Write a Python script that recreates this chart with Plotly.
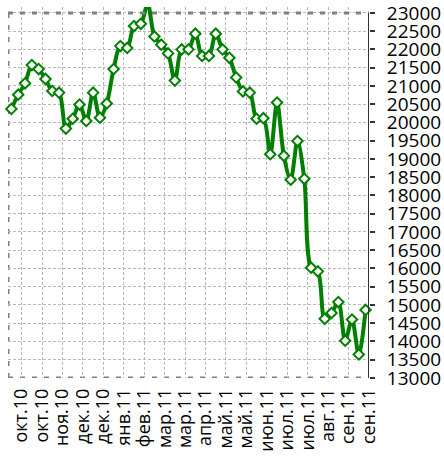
import plotly.graph_objects as go

# weekly observations (index 0..52)
values = [20370, 20760, 21070, 21570, 21460, 21190, 20860, 20815, 19830, 20100,
          20490, 20040, 20815, 20130, 20520, 21460, 22090, 22040, 22640, 22700,
          23250, 22355, 22130, 21890, 21145, 22000, 22000, 22430, 21820, 21820,
          22430, 22000, 21770, 21230, 20850, 20815, 20100, 20115, 19130, 20545,
          19085, 18430, 19490, 18455, 16020, 15920, 14620, 14780, 15080, 14020,
          14600, 13645, 14865]
weeks = list(range(len(values)))

tick_labels = ["окт.10", "окт.10", "ноя.10", "дек.10", "дек.10", "янв.11",
               "фев.11", "мар.11", "мар.11", "апр.11", "май.11", "май.11",
               "июн.11", "июл.11", "июл.11", "авг.11", "сен.11", "сен.11"]
tick_pos = [1.5 + 3 * i for i in range(len(tick_labels))]

y_ticks = list(range(13000, 23001, 500))
y_tick_text = [str(v) for v in y_ticks]

FONT = "Open Sans"
XMIN, XMAX = -0.5, 52.5
YMIN, YMAX = 13000, 23161

fig = go.Figure()
fig.add_trace(go.Scatter(
    x=weeks, y=values, mode="lines+markers",
    line=dict(color="#008000", width=4, shape="spline", smoothing=0.9),
    marker=dict(symbol="diamond", size=8, color="white",
                line=dict(color="#008000", width=2)),
    cliponaxis=False, showlegend=False,
))

grid = dict(color="#b8b8b8", width=1, dash="3px,2px")
border = dict(color="#808080", width=3, dash="5px,7px")
shapes = [
    dict(type="line", xref="x", yref="y", x0=XMIN, x1=XMAX, y0=23000, y1=23000, line=border, layer="above"),
    dict(type="line", xref="x", yref="y", x0=XMIN, x1=XMAX, y0=13000, y1=13000, line=border, layer="below"),
    dict(type="line", xref="x", yref="y", x0=XMIN, x1=XMIN, y0=13000, y1=23000, line=border, layer="below"),
    dict(type="line", xref="x", yref="y", x0=XMAX, x1=XMAX, y0=13000, y1=23000,
         line=dict(color="#333333", width=2), layer="above"),
]

fig.update_layout(
    width=444, height=459,
    margin=dict(l=8, r=75, t=0, b=81, pad=0),
    paper_bgcolor="white", plot_bgcolor="white",
    font=dict(family=FONT, size=18, color="#000000"),
    shapes=shapes,
    xaxis=dict(range=[XMIN, XMAX], tickvals=tick_pos, ticktext=tick_labels,
               tickangle=-90, showgrid=True, gridcolor=grid["color"],
               gridwidth=grid["width"], griddash=grid["dash"], zeroline=False,
               showline=False, ticks="", ticklabelstandoff=6,
               tickfont=dict(size=18)),
    yaxis=dict(range=[YMIN, YMAX], side="right", tickvals=y_ticks,
               ticktext=y_tick_text, ticklabeloverflow="allow",
               showgrid=True, gridcolor=grid["color"], gridwidth=grid["width"],
               griddash=grid["dash"], zeroline=False, showline=False,
               ticks="outside", ticklen=5, tickwidth=2, tickcolor="#333333",
               ticklabelstandoff=8, tickfont=dict(size=19)),
)

fig.write_html("out.html", config={"displayModeBar": False},
               post_script="document.body.style.margin='0';document.body.style.overflow='hidden';")
